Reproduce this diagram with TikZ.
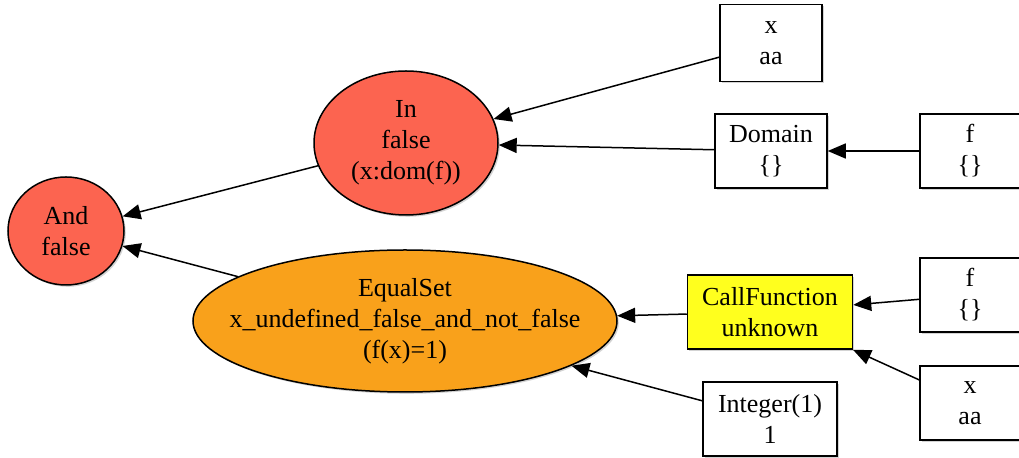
\documentclass[tikz,border=0pt]{standalone}
\usepackage{fontspec}
\setmainfont{Liberation Serif}
\usetikzlibrary{arrows.meta,shapes.geometric,shadows}
\definecolor{tomatofill}{HTML}{FC6450}
\definecolor{orangefill}{HTML}{F9A11B}
\definecolor{yellowfill}{HTML}{FFFF1E}

\begin{document}
\begin{tikzpicture}[
    x=0.5pt, y=-0.5pt,
    font=\fontsize{13}{15.5}\selectfont,
    >={Triangle[length=9pt,width=7.5pt]},
    line width=0.75pt,
    shade/.style={drop shadow={shadow xshift=0.9pt, shadow yshift=-0.9pt, opacity=0.35}},
    op/.style={ellipse, draw, fill=tomatofill, inner sep=0pt, align=center, shade},
    eqop/.style={ellipse, draw, fill=orangefill, inner ysep=0pt, inner xsep=-13pt, align=center, shade},
    call/.style={draw, fill=yellowfill, inner sep=0pt, minimum width=82.5pt, minimum height=37pt, align=center, shade},
    leaf/.style={draw, fill=white, inner sep=0pt, minimum height=37pt, align=center, shade}
]
\useasboundingbox (0,0) rectangle (1019,458);

\node[op, minimum width=58pt, minimum height=54pt] (andnode) at (66,231) {And\\false};
\node[op, minimum width=92pt, minimum height=72pt] (innode) at (406,143) {In\\false\\(x:dom(f))};
\node[eqop, minimum width=212pt, minimum height=71pt] (eqset) at (405,321) {EqualSet\\x\_undefined\_false\_and\_not\_false\\(f(x)=1)};

\node[leaf, minimum width=51pt, minimum height=38.5pt] (xtop) at (771,43) {x\\aa};
\node[leaf, minimum width=56pt] (domain) at (771,151) {Domain\\\{\}};
\node[leaf, minimum width=50pt] (ftop) at (970,151) {f\\\{\}};

\node[call] (callfn) at (770,312) {CallFunction\\unknown};
\node[leaf, minimum width=50pt] (fbot) at (970,295) {f\\\{\}};
\node[leaf, minimum width=50pt] (xbot) at (970,403) {x\\aa};
\node[leaf, minimum width=67pt] (intone) at (770,419) {Integer(1)\\1};

\draw[->] (xtop) -- (innode);
\draw[->] (domain) -- (innode);
\draw[->] (ftop) -- (domain);
\draw[->] (innode) -- (andnode);
\draw[->] (eqset) -- (andnode);
\draw[->] (callfn) -- (eqset);
\draw[->] (intone) -- (eqset);
\draw[->] (fbot) -- (callfn);
\draw[->] (xbot) -- (callfn);
\end{tikzpicture}
\end{document}
